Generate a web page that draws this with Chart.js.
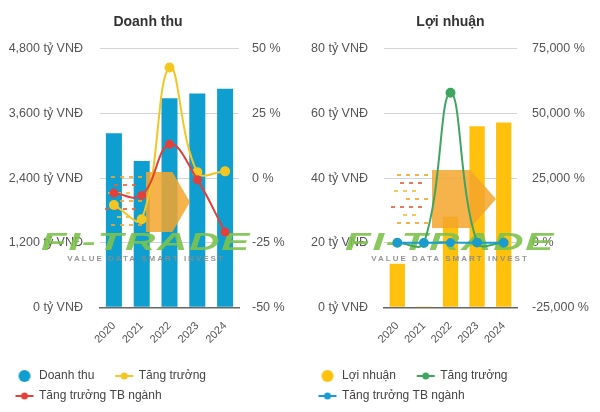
<!DOCTYPE html>
<html>
<head>
<meta charset="utf-8">
<script src="https://cdn.jsdelivr.net/npm/chart.js@4.4.1/dist/chart.umd.min.js"></script>
<style>
  body { margin: 0; background: #fff; }
  .wrap { display: flex; width: 600px; height: 412px; }
  canvas { display: block; }
</style>
</head>
<body>
<div class="wrap">
  <canvas id="revenueChart" width="300" height="412"></canvas>
  <canvas id="profitChart" width="300" height="412"></canvas>
</div>
<script>
// data
const years = ['2020', '2021', '2022', '2023', '2024'];
const revenue = [3230, 2715, 3880, 3970, 4060];           // tỷ VNĐ
const revenueGrowth = [-10.4, -15.9, 42.8, 2.3, 2.6];      // %
const revenueIndustry = [-5.8, -6.7, 13.1, -0.6, -20.9];   // %
const profit = [13.5, 0.05, 28, 56, 57.2];                 // tỷ VNĐ
const profitGrowth = [0, -99.6, 58000, 100, 2.1];          // %
const profitIndustry = [10, -15, 40, 20, 5];               // %

const revenueTicks = [0, 1200, 2400, 3600, 4800];
const revenuePctTicks = [-50, -25, 0, 25, 50];
const profitTicks = [0, 20, 40, 60, 80];
const profitPctTicks = [-25000, 0, 25000, 50000, 75000];

Chart.defaults.font.family = '"Liberation Sans", Arial, sans-serif';
Chart.defaults.color = '#555';

function fmt(v) {
    return v.toLocaleString('en-US');
}

// legend markers: a dot for bars, a short line with a dot for lines
function dotMark(color) {
    let c = document.createElement('canvas');
    c.width = 20; c.height = 14;
    let g = c.getContext('2d');
    g.fillStyle = color;
    g.beginPath();
    g.arc(10, 7, 6, 0, Math.PI * 2);
    g.fill();
    return c;
}

function lineMark(color) {
    let c = document.createElement('canvas');
    c.width = 20; c.height = 14;
    let g = c.getContext('2d');
    g.strokeStyle = color;
    g.lineWidth = 2;
    g.beginPath();
    g.moveTo(1, 7);
    g.lineTo(19, 7);
    g.stroke();
    g.fillStyle = color;
    g.beginPath();
    g.arc(10, 7, 3.5, 0, Math.PI * 2);
    g.fill();
    return c;
}

function legendItems(chart) {
    return chart.data.datasets.map((ds, i) => ({
        text: ds.label + '    ',
        pointStyle: ds.type === 'bar' ? dotMark(ds.backgroundColor) : lineMark(ds.borderColor),
        fillStyle: 'rgba(0,0,0,0)',
        strokeStyle: 'rgba(0,0,0,0)',
        lineWidth: 0,
        fontColor: '#444',
        hidden: false,
        datasetIndex: i
    }));
}

// the FI-TRADE mark sits over the bars but under the lines
const watermark = {
    id: 'watermark',
    afterDatasetDraw(chart, args, opts) {
        if (args.index !== 0) return;
        const ctx = chart.ctx;
        const c = opts.chevron;
        ctx.save();
        ctx.globalAlpha = 0.85;

        // dashes left of the chevron
        const dashColors = ['#F4A52C', '#E8603C', '#F0C040'];
        for (let r = 0; r < 7; r++) {
            let y = c[1] + 4 + r * 8;
            ctx.fillStyle = dashColors[r % 3];
            for (let x = c[0] - 8 - (r % 3) * 6; x > c[0] - 44 + (r % 2) * 10; x -= 9) {
                ctx.fillRect(x, y, 4, 2);
            }
        }

        ctx.fillStyle = '#F4A52C';
        ctx.beginPath();
        ctx.moveTo(c[0], c[1]);
        ctx.lineTo(c[0] + c[2] * 0.6, c[1]);
        ctx.lineTo(c[0] + c[2], c[1] + c[3] / 2);
        ctx.lineTo(c[0] + c[2] * 0.6, c[1] + c[3]);
        ctx.lineTo(c[0], c[1] + c[3]);
        ctx.closePath();
        ctx.fill();

        ctx.globalAlpha = 0.9;
        ctx.textAlign = 'center';
        ctx.textBaseline = 'middle';
        ctx.save();
        ctx.translate(opts.cx, 243);
        ctx.scale(1.75, 1);
        ctx.fillStyle = '#7CC24A';
        ctx.font = 'italic bold 24px "Liberation Sans", Arial, sans-serif';
        ctx.letterSpacing = '1px';
        ctx.fillText('FI-TRADE', 0, 0);
        ctx.restore();
        ctx.fillStyle = '#8a8a8a';
        ctx.font = 'bold 8px "Liberation Sans", Arial, sans-serif';
        ctx.letterSpacing = '2px';
        ctx.fillText('VALUE DATA SMART INVEST', opts.cx, 259);
        ctx.restore();
    }
};

function makeChart(id, cfg) {
    const ctx = document.getElementById(id).getContext('2d');
    return new Chart(ctx, {
        data: {
            labels: years,
            datasets: [
                {
                    type: 'bar',
                    label: cfg.barLabel,
                    data: cfg.bars,
                    backgroundColor: cfg.barColor,
                    yAxisID: 'y',
                    order: 3,
                    categoryPercentage: 0.8,
                    barPercentage: 0.72
                },
                {
                    type: 'line',
                    label: 'Tăng trưởng',
                    data: cfg.growth,
                    borderColor: cfg.growthColor,
                    backgroundColor: cfg.growthColor,
                    borderWidth: 2,
                    pointRadius: 4,
                    tension: 0.4,
                    yAxisID: 'y1',
                    order: 2
                },
                {
                    type: 'line',
                    label: 'Tăng trưởng TB ngành',
                    data: cfg.industry,
                    borderColor: cfg.industryColor,
                    backgroundColor: cfg.industryColor,
                    borderWidth: 2,
                    pointRadius: 3.5,
                    tension: 0.4,
                    yAxisID: 'y1',
                    order: 1
                }
            ]
        },
        options: {
            responsive: false,
            animation: false,
            layout: { padding: cfg.padding },
            scales: {
                x: {
                    grid: { display: false },
                    border: { color: '#666', width: 1.5 },
                    ticks: { font: { size: 11 }, color: '#555', minRotation: 45, maxRotation: 45, padding: 4 },
                    afterFit: axis => { axis.height += 12; }
                },
                y: {
                    position: 'left',
                    min: cfg.yTicks[0],
                    max: cfg.yTicks[cfg.yTicks.length - 1],
                    afterBuildTicks: axis => { axis.ticks = cfg.yTicks.map(v => ({ value: v })); },
                    afterFit: axis => { axis.width = cfg.leftWidth; },
                    grid: { color: '#d4d4d4', drawTicks: false },
                    border: { display: false },
                    ticks: { font: { size: 12.5 }, color: '#555', padding: cfg.leftPad, callback: v => fmt(v) + ' tỷ VNĐ' }
                },
                y1: {
                    position: 'right',
                    min: cfg.pctTicks[0],
                    max: cfg.pctTicks[cfg.pctTicks.length - 1],
                    afterBuildTicks: axis => { axis.ticks = cfg.pctTicks.map(v => ({ value: v })); },
                    afterFit: axis => { axis.width = cfg.rightWidth; },
                    grid: { display: false, drawTicks: false },
                    border: { display: false },
                    ticks: { font: { size: 12.5 }, color: '#555', padding: cfg.rightPad, callback: v => fmt(v) + ' %' }
                }
            },
            plugins: {
                title: {
                    display: true,
                    text: cfg.title,
                    color: '#333',
                    font: { size: 14, weight: 'bold' },
                    padding: { top: 14, bottom: 18 }
                },
                legend: {
                    position: 'bottom',
                    align: 'start',
                    labels: {
                        usePointStyle: true,
                        pointStyleWidth: 17,
                        padding: 8,
                        color: '#444',
                        font: { size: 12 },
                        generateLabels: legendItems
                    }
                },
                tooltip: { enabled: false },
                watermark: { chevron: cfg.chevron, cx: cfg.markX }
            }
        },
        plugins: [watermark]
    });
}

makeChart('revenueChart', {
    title: 'Doanh thu',
    barLabel: 'Doanh thu',
    bars: revenue,
    growth: revenueGrowth,
    industry: revenueIndustry,
    barColor: '#0E9FD0',
    growthColor: '#F3C623',
    industryColor: '#E2403A',
    yTicks: revenueTicks,
    pctTicks: revenuePctTicks,
    padding: { left: 8, right: 12, top: 0, bottom: 0 },
    leftWidth: 92,
    rightWidth: 49,
    leftPad: 17,
    rightPad: 13,
    chevron: [146, 172, 44, 60],
    markX: 146
});

makeChart('profitChart', {
    title: 'Lợi nhuận',
    barLabel: 'Lợi nhuận',
    bars: profit,
    growth: profitGrowth,
    industry: profitIndustry,
    barColor: '#FFC10E',
    growthColor: '#3FA561',
    industryColor: '#1A9BD2',
    yTicks: profitTicks,
    pctTicks: profitPctTicks,
    padding: { left: 11, right: 10, top: 0, bottom: 0 },
    leftWidth: 73,
    rightWidth: 73,
    leftPad: 16,
    rightPad: 15,
    chevron: [132, 170, 64, 58],
    markX: 150
});
</script>
</body>
</html>
